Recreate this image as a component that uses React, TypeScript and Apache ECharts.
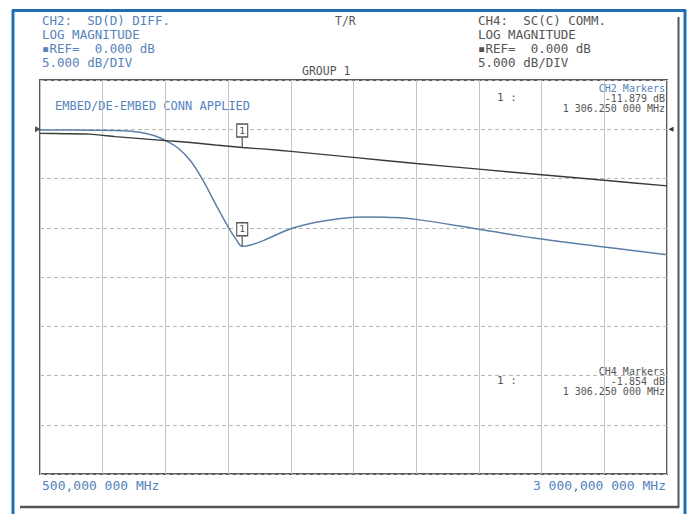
import React, { useEffect, useRef } from "react";
import * as echarts from "echarts";

// ---- data ----
const FREQ_START = 500;
const FREQ_END = 3000;
const FREQ_STEP = 250;
const DB_MIN = -35;
const DB_MAX = 5;
const DB_STEP = 5;

// CH2: SD(D) DIFF. (blue trace)
const CH2_FREQ = [500, 700, 850, 950, 1000, 1050, 1100, 1150, 1200, 1250, 1280, 1306.25, 1340, 1400, 1500, 1600, 1700, 1800, 1900, 2000, 2250, 2500, 2750, 3000];
const CH2_DB = [-0.08, -0.1, -0.18, -0.6, -1.15, -1.9, -3.2, -5.2, -7.6, -9.9, -11.1, -11.879, -11.75, -11.2, -10.1, -9.45, -9.05, -8.9, -8.95, -9.15, -10.15, -11.15, -11.95, -12.75];

// CH4: SC(C) COMM. (dark trace)
const CH4_FREQ = [500, 600, 700, 800, 900, 1000, 1100, 1200, 1306.25, 1400, 1500, 1750, 2000, 2250, 2500, 2750, 3000];
const CH4_DB = [-0.42, -0.45, -0.5, -0.75, -0.95, -1.15, -1.35, -1.6, -1.854, -2.02, -2.25, -2.85, -3.48, -4.05, -4.62, -5.18, -5.75];

const MARKER_FREQ = 1306.25;
const CH2_MARKER_DB = -11.879;
const CH4_MARKER_DB = -1.854;

const LEFT_HEADER = ["CH2:  SD(D) DIFF.", "LOG MAGNITUDE", "\u25AAREF=  0.000 dB", "5.000 dB/DIV"];
const RIGHT_HEADER = ["CH4:  SC(C) COMM.", "LOG MAGNITUDE", "\u25AAREF=  0.000 dB", "5.000 dB/DIV"];

const BLUE_TEXT = "#5583bb";
const GRAY_TEXT = "#555555";
const MONO = "'DejaVu Sans Mono', 'Liberation Mono', monospace";

function groupInt(ip: string) {
  return ip.length > 3 ? ip.slice(0, ip.length - 3) + " " + ip.slice(ip.length - 3) : ip;
}
function fmtMHz(f: number, sep: string) {
  const [ip, dp] = f.toFixed(6).split(".");
  return groupInt(ip) + sep + dp.slice(0, 3) + " " + dp.slice(3) + " MHz";
}

function markerPoints(value: number) {
  return [
    {
      coord: [MARKER_FREQ, value],
      symbol: "rect",
      symbolSize: [1.2, 10],
      symbolOffset: [0, -5],
      itemStyle: { color: "#555" },
      label: { show: false },
    },
    {
      coord: [MARKER_FREQ, value],
      symbol: "rect",
      symbolSize: [11, 13],
      symbolOffset: [0, -17],
      itemStyle: { color: "#ffffff", borderColor: "#555", borderWidth: 1.2 },
      label: { show: true, position: "inside", formatter: "1", fontSize: 9, color: "#444", fontFamily: MONO },
    },
  ];
}

export default function App() {
  const ref = useRef<HTMLDivElement>(null);
  useEffect(() => {
    document.body.style.margin = "0";
    const chart = echarts.init(ref.current!, null, { renderer: "svg" });
    const headerTops = [14, 28, 42, 56];
    const graphics: any[] = [];
    LEFT_HEADER.forEach((t, i) =>
      graphics.push({ type: "text", left: 42, top: headerTops[i], style: { text: t, fill: BLUE_TEXT, font: `12.5px ${MONO}` } })
    );
    RIGHT_HEADER.forEach((t, i) =>
      graphics.push({ type: "text", left: 478, top: headerTops[i], style: { text: t, fill: GRAY_TEXT, font: `12.5px ${MONO}` } })
    );
    const ro = 25;
    const rf = `10px ${MONO}`;
    graphics.push(
      { type: "text", left: 335, top: 15, style: { text: "T/R", fill: GRAY_TEXT, font: `11.5px ${MONO}` } },
      { type: "text", left: 302, top: 65, style: { text: "GROUP 1", fill: GRAY_TEXT, font: `11.5px ${MONO}` } },
      { type: "text", left: 55, top: 100, style: { text: "EMBED/DE-EMBED CONN APPLIED", fill: BLUE_TEXT, font: `12px ${MONO}` } },
      // marker readouts, top (CH2)
      { type: "text", left: 497, top: 92, style: { text: "1 :", fill: GRAY_TEXT, font: `11px ${MONO}` } },
      { type: "text", right: ro, top: 83, style: { text: "CH2 Markers", fill: BLUE_TEXT, font: rf } },
      { type: "text", right: ro, top: 93, style: { text: CH2_MARKER_DB.toFixed(3) + " dB", fill: GRAY_TEXT, font: rf } },
      { type: "text", right: ro, top: 103, style: { text: fmtMHz(MARKER_FREQ, "."), fill: GRAY_TEXT, font: rf } },
      // marker readouts, bottom (CH4)
      { type: "text", left: 497, top: 375, style: { text: "1 :", fill: GRAY_TEXT, font: `11px ${MONO}` } },
      { type: "text", right: ro, top: 366, style: { text: "CH4 Markers", fill: GRAY_TEXT, font: rf } },
      { type: "text", right: ro, top: 376, style: { text: CH4_MARKER_DB.toFixed(3) + " dB", fill: GRAY_TEXT, font: rf } },
      { type: "text", right: ro, top: 386, style: { text: fmtMHz(MARKER_FREQ, "."), fill: GRAY_TEXT, font: rf } },
      // frequency span
      { type: "text", left: 42, top: 479, style: { text: fmtMHz(FREQ_START, ","), fill: BLUE_TEXT, font: `13px ${MONO}` } },
      { type: "text", right: 24, top: 479, style: { text: fmtMHz(FREQ_END, ","), fill: BLUE_TEXT, font: `13px ${MONO}` } },
      // frame
      { type: "line", shape: { x1: 13, y1: 10, x2: 13, y2: 514 }, style: { stroke: "#1f6db5", lineWidth: 3 } },
      { type: "line", shape: { x1: 12, y1: 10.5, x2: 686, y2: 10.5 }, style: { stroke: "#1f6db5", lineWidth: 3 } },
      { type: "line", shape: { x1: 685, y1: 10, x2: 685, y2: 514 }, style: { stroke: "#1f6db5", lineWidth: 3 } },
      { type: "line", shape: { x1: 678.5, y1: 17, x2: 678.5, y2: 508 }, style: { stroke: "#555", lineWidth: 2 } },
      { type: "line", shape: { x1: 20, y1: 507, x2: 679, y2: 507 }, style: { stroke: "#555", lineWidth: 2.5 } }
    );

    chart.setOption({
      animation: false,
      backgroundColor: "#ffffff",
      grid: { left: 40, top: 80, right: 23, bottom: 40, show: true, borderColor: "#5a5a5a", borderWidth: 2, backgroundColor: "transparent" },
      xAxis: {
        type: "value",
        min: FREQ_START,
        max: FREQ_END,
        interval: FREQ_STEP,
        axisLine: { show: false },
        axisTick: { show: false },
        axisLabel: { show: false },
        splitLine: { show: true, lineStyle: { color: "#c4c4c4", width: 1 } },
      },
      yAxis: {
        type: "value",
        min: DB_MIN,
        max: DB_MAX,
        interval: DB_STEP,
        axisLine: { show: false },
        axisTick: { show: false },
        axisLabel: { show: false },
        splitLine: { show: true, lineStyle: { color: "#b8b8b8", width: 1, type: [4, 3] } },
      },
      graphic: graphics,
      series: [
        {
          type: "line",
          name: "CH4",
          data: CH4_FREQ.map((f, i) => [f, CH4_DB[i]]),
          showSymbol: false,
          smooth: 0.2,
          lineStyle: { color: "#3a3a3a", width: 1.4 },
          markPoint: {
            data: [
              ...markerPoints(CH4_MARKER_DB),
              { coord: [FREQ_START, 0], symbol: "triangle", symbolRotate: -90, symbolSize: [6, 6], symbolOffset: [-2, 0], itemStyle: { color: "#555" }, label: { show: false } },
              { coord: [FREQ_END, 0], symbol: "triangle", symbolRotate: 90, symbolSize: [5, 5], symbolOffset: [4, 0], itemStyle: { color: "#333" }, label: { show: false } },
            ],
          },
          z: 3,
        },
        {
          type: "line",
          name: "CH2",
          data: CH2_FREQ.map((f, i) => [f, CH2_DB[i]]),
          showSymbol: false,
          smooth: 0.4,
          lineStyle: { color: "#5d7fa6", width: 1.5 },
          markPoint: { data: markerPoints(CH2_MARKER_DB) },
          z: 2,
        },
      ],
    });
    return () => chart.dispose();
  }, []);
  return <div ref={ref} style={{ position: "fixed", left: 0, top: 0, width: 690, height: 514 }} />;
}
